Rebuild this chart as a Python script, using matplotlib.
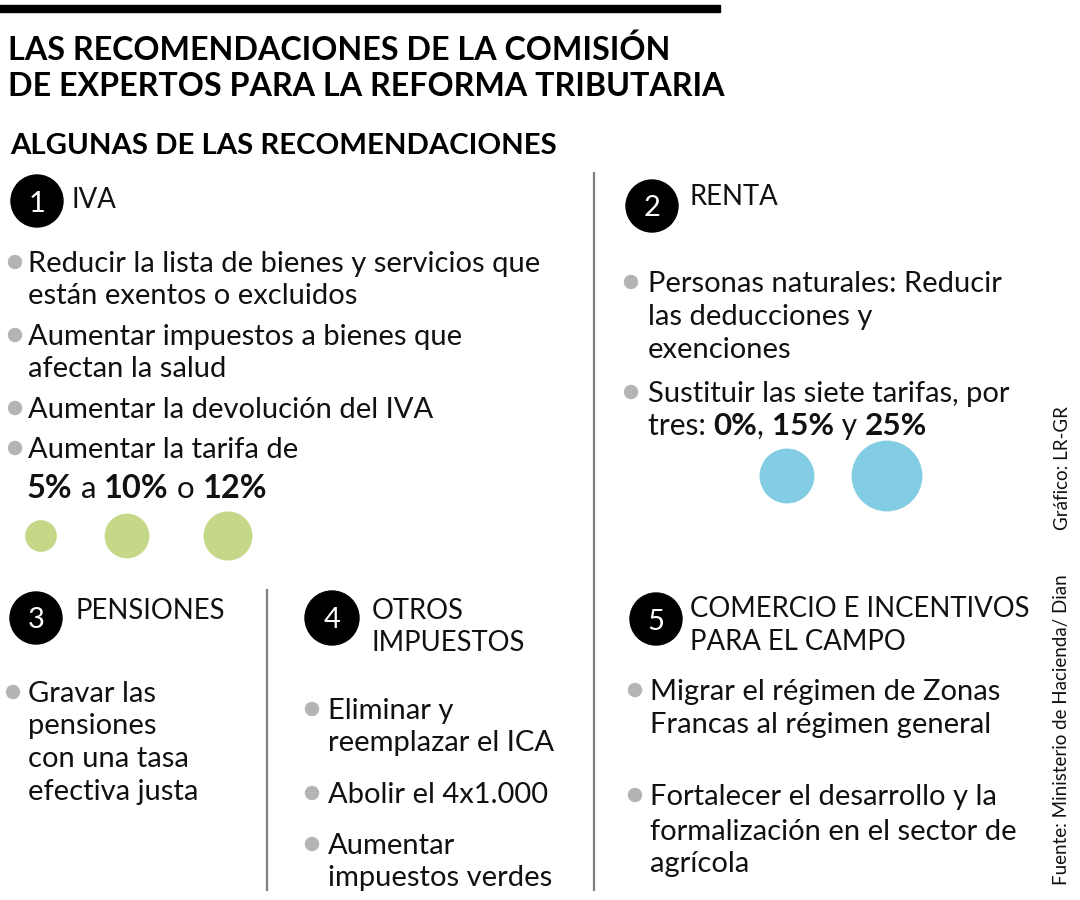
import matplotlib
matplotlib.use("Agg")
import matplotlib.pyplot as plt
from matplotlib.patches import Circle, Rectangle

# ---------------- data ----------------
TITLE_LINES = ["LAS RECOMENDACIONES DE LA COMISIÓN",
               "DE EXPERTOS PARA LA REFORMA TRIBUTARIA"]
SUBTITLE = "ALGUNAS DE LAS RECOMENDACIONES"
SECTION_NUMBERS = ["1", "2", "3", "4", "5"]
SECTION_HEADERS = [["IVA"], ["RENTA"], ["PENSIONES"],
                   ["OTROS", "IMPUESTOS"],
                   ["COMERCIO E INCENTIVOS", "PARA EL CAMPO"]]

IVA_ITEMS = [["Reducir la lista de bienes y servicios que", "están exentos o excluidos"],
             ["Aumentar impuestos a bienes que", "afectan la salud"],
             ["Aumentar la devolución del IVA"],
             ["Aumentar la tarifa de"]]
IVA_RATES = [5, 10, 12]          # % (bubble area ~ rate)
IVA_CONNECTORS = [" a ", " o "]

RENTA_ITEMS = [["Personas naturales: Reducir", "las deducciones y", "exenciones"],
               ["Sustituir las siete tarifas, por"]]
RENTA_PREFIX = "tres: "
RENTA_RATES = [0, 15, 25]        # % (bubble area ~ rate)
RENTA_CONNECTORS = [", ", " y "]

PENSION_ITEMS = [["Gravar las", "pensiones", "con una tasa", "efectiva justa"]]
OTROS_ITEMS = [["Eliminar y", "reemplazar el ICA"],
               ["Abolir el 4x1.000"],
               ["Aumentar", "impuestos verdes"]]
COMERCIO_ITEMS = [["Migrar el régimen de Zonas", "Francas al régimen general"],
                  ["Fortalecer el desarrollo y la", "formalización en el sector de", "agrícola"]]

SOURCE = "Fuente: Ministerio de Hacienda/ Dian"
CREDIT = "Gráfico: LR-GR"

# ---------------- style ----------------
BODY = ["Lato", "DejaVu Sans"]
TITLE_FONT = ["Lato", "DejaVu Sans"]
TXT = "#111111"
DOT = "#b4b4b4"
GREEN = "#c5d888"
BLUE = "#82cce4"
RULE = "#808080"
BODY_SIZE = 21
HEAD_SIZE = 19.8

fig = plt.figure(figsize=(10.8, 9.0), dpi=100)
ax = fig.add_axes([0, 0, 1, 1])
ax.set_xlim(0, 1080)
ax.set_ylim(900, 0)
ax.axis("off")
renderer = fig.canvas.get_renderer()


def text(x, y, s, size, weight="normal", family=BODY, color=TXT, **kw):
    return ax.text(x, y, s, fontsize=size, fontweight=weight, family=family,
                   color=color, ha=kw.pop("ha", "left"), va=kw.pop("va", "baseline"), **kw)


def width(t):
    return t.get_window_extent(renderer).width


def rich_line(x, y, parts, size):
    for s, bold in parts:
        t = text(x, y, s, size if bold else size - 1, weight="bold" if bold else "normal")
        x += width(t)


def badge(cx, cy, num, r=26):
    ax.add_patch(Circle((cx, cy), r, color="black", zorder=3))
    text(cx, cy + 10.5, num, 21, weight="normal", color="white", ha="center", zorder=4)


def bullets(dot_x, text_x, items, baselines, size=BODY_SIZE):
    k = 0
    for item in items:
        ax.add_patch(Circle((dot_x, baselines[k] - 10), 6.5, color=DOT, zorder=3))
        for line in item:
            text(text_x, baselines[k], line, size)
            k += 1


# top bar
ax.add_patch(Rectangle((0, 5), 720, 7, color="black"))
# title
text(8, 60, TITLE_LINES[0], 23.2, weight="bold", family=TITLE_FONT, color="black")
text(8, 96, TITLE_LINES[1], 23.2, weight="bold", family=TITLE_FONT, color="black")
text(10, 154, SUBTITLE, 21.2, weight="bold", family=TITLE_FONT, color="black")

# dividers
ax.plot([594, 594], [173, 890], color=RULE, lw=1.6)
ax.plot([267, 267], [590, 890], color=RULE, lw=1.6)

# section 1: IVA
badge(37, 201, SECTION_NUMBERS[0])
text(71, 208, SECTION_HEADERS[0][0], HEAD_SIZE)
bullets(15, 28, IVA_ITEMS, [272, 304, 345, 377, 418, 458])
parts = []
for i, r in enumerate(IVA_RATES):
    parts.append((f"{r}%", True))
    if i < len(IVA_CONNECTORS):
        parts.append((IVA_CONNECTORS[i], False))
rich_line(27, 498, parts, 23.5)
ax.scatter([41, 127, 228], [536] * 3, s=[104 * v for v in IVA_RATES],
           color=GREEN, linewidths=0, zorder=3)

# section 2: RENTA
badge(652, 206, SECTION_NUMBERS[1])
text(690, 205, SECTION_HEADERS[1][0], HEAD_SIZE)
bullets(631, 648, RENTA_ITEMS, [292, 325, 358, 402])
parts = [(RENTA_PREFIX, False)]
for i, r in enumerate(RENTA_RATES):
    parts.append((f"{r}%", True))
    if i < len(RENTA_CONNECTORS):
        parts.append((RENTA_CONNECTORS[i], False))
rich_line(648, 435, parts, 22.6)
ax.scatter([687, 787, 887], [476] * 3, s=[104 * v for v in RENTA_RATES],
           color=BLUE, linewidths=0, zorder=3)

# section 3: PENSIONES
badge(36, 618, SECTION_NUMBERS[2])
text(76, 619, SECTION_HEADERS[2][0], HEAD_SIZE)
bullets(13, 28, PENSION_ITEMS, [702, 734, 767, 800])

# section 4: OTROS IMPUESTOS
badge(332, 618, SECTION_NUMBERS[3], r=27)
text(372, 619, SECTION_HEADERS[3][0], HEAD_SIZE)
text(372, 651, SECTION_HEADERS[3][1], HEAD_SIZE)
bullets(312, 328, OTROS_ITEMS, [719, 751, 803, 854, 886])

# section 5: COMERCIO
badge(656, 619, SECTION_NUMBERS[4])
text(690, 617, SECTION_HEADERS[4][0], HEAD_SIZE)
text(690, 650, SECTION_HEADERS[4][1], HEAD_SIZE)
bullets(635, 650, COMERCIO_ITEMS, [700, 733, 805, 840, 872])

# side credits
text(1062, 468, CREDIT, 13.5, rotation=90, ha="center", va="center")
text(1062, 730, SOURCE, 13.5, rotation=90, ha="center", va="center")

fig.savefig("out.png", dpi=100)
